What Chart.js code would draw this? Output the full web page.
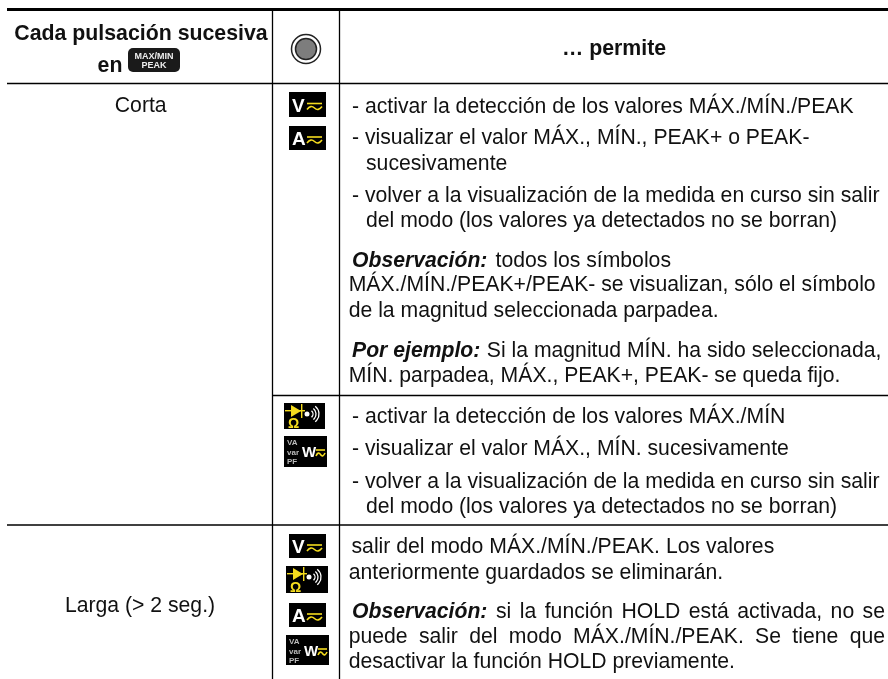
<!DOCTYPE html>
<html><head><meta charset="utf-8">
<style>html,body{margin:0;padding:0;background:#fff;overflow:hidden}canvas{display:block}</style>
<script src="https://cdn.jsdelivr.net/npm/chart.js@4"></script></head>
<body><canvas id="c" width="888" height="679"></canvas>
<script>
// ---- table content
const headerLabels = ['Cada pulsación sucesiva','en','… permite'];
const pressLabels = ['Corta','Larga (> 2 seg.)'];
const actionLines = [
'- activar la detección de los valores MÁX./MÍN./PEAK',
'- visualizar el valor MÁX., MÍN., PEAK+ o PEAK-',
'sucesivamente',
'- volver a la visualización de la medida en curso sin salir',
'del modo (los valores ya detectados no se borran)',
'Observación:',
'todos los símbolos',
'MÁX./MÍN./PEAK+/PEAK- se visualizan, sólo el símbolo',
'de la magnitud seleccionada parpadea.',
'Por ejemplo:',
'Si la magnitud MÍN. ha sido seleccionada,',
'MÍN. parpadea, MÁX., PEAK+, PEAK- se queda fijo.',
'- activar la detección de los valores MÁX./MÍN',
'- visualizar el valor MÁX., MÍN. sucesivamente',
'- volver a la visualización de la medida en curso sin salir',
'del modo (los valores ya detectados no se borran)',
'salir del modo MÁX./MÍN./PEAK. Los valores',
'anteriormente guardados se eliminarán.',
'Observación:',
'si la función HOLD está activada, no se',
'puede salir del modo MÁX./MÍN./PEAK. Se tiene que',
'desactivar la función HOLD previamente.'
];
const iconKinds = ['V','A','D','W','V','D','A','W'];

// ---- layout, kept apart from the content
const FONT = '"Liberation Sans", Arial, sans-serif';
const SIZE = 21.2, BOLD = 21.3;
const headerPos = [[141,40,'center'],[110,71.7,'center'],[614,55,'center']];
const pressPos = [[140.7,112],[140,611.7]];
// x, baseline, style, right edge for justified lines
const actionPos = [
[352,113],[352,144.3],[366,170],[352,201.7],[366,226.7],
[352,267,'bi'],[495.5,267],[348.7,290.7],[348.7,316.7],
[352,356.7,'bi'],[486.8,356.7],[348.7,382],
[352,423],[352,455],[352,488],[366,513],
[351.5,553],[348.7,579],
[352,617.7,'bi'],[496,617.7,'n',885],[348.7,643,'n',885],[348.7,668]
];
const iconPos = [[289,92,37,25],[289,126,37,24],[284,403,41,26],[284,436,43,31],
                 [289,534,37,24],[286,566,42,27],[289,603,37,24],[286,635,43,30]];
const ruleH = [[7,888,9.5,3],[7,888,83.5,1.3],[272,888,395.5,1.3],[7,888,525,1.3]];
const ruleV = [[272.5,11,679,1.3],[339.5,11,679,1.3]];

const lines = [];
const seg = (a,b,c,d,w)=>lines.push({type:'line',data:[{x:a,y:b},{x:c,y:d}],borderColor:'#000',borderWidth:w,pointRadius:0,tension:0});
ruleH.forEach(r=>seg(r[0],r[2],r[1],r[2],r[3]));
ruleV.forEach(r=>seg(r[0],r[1],r[0],r[2],r[3]));

const YEL='#f5dc1e';
function tilde(c,x,y,w){
  c.strokeStyle=YEL;c.lineWidth=1.6;c.beginPath();c.moveTo(x,y+3);
  c.quadraticCurveTo(x+w*.25,y-2,x+w*.5,y+1.5);c.quadraticCurveTo(x+w*.75,y+5,x+w,y);c.stroke();
  c.beginPath();c.moveTo(x,y-3);c.lineTo(x+w,y-3);c.stroke();
}
function icon(c,k,x,y,w,h){
  c.save();c.fillStyle='#000';c.fillRect(x,y,w,h);
  c.textBaseline='alphabetic';c.textAlign='left';
  if(k==='V'||k==='A'){
    c.fillStyle='#fff';c.font='bold 19px '+FONT;c.fillText(k,x+3,y+h-5);
    tilde(c,x+18,y+h/2+2,15);
  }else if(k==='D'){
    c.fillStyle=YEL;c.beginPath();c.moveTo(x+7,y+2);c.lineTo(x+17,y+8);c.lineTo(x+7,y+14);c.fill();
    c.fillRect(x+1,y+7,20,1.4);c.fillRect(x+17,y+1,1.4,14);
    c.font='bold 14px '+FONT;c.fillText('Ω',x+4,y+h-1);
    c.fillStyle='#fff';c.beginPath();c.arc(x+23,y+11,2.5,0,7);c.fill();
    c.strokeStyle='#fff';c.lineWidth=1.3;
    [3,6,9].forEach(r=>{c.beginPath();c.arc(x+25,y+11,r+1,-.9,.9);c.stroke();});
  }else{
    c.fillStyle='#bbb';c.font='bold 8px '+FONT;
    c.fillText('VA',x+3,y+9);c.fillText('var',x+3,y+19);c.fillText('PF',x+3,y+28);
    c.fillStyle='#fff';c.font='bold 15px '+FONT;c.fillText('W',x+18,y+21);
    tilde(c,x+32,y+17,9);
  }
  c.restore();
}
const tablePlugin={id:'table',afterDatasetsDraw(ch){
  const c=ch.ctx,X=ch.scales.x,Y=ch.scales.y,px=v=>X.getPixelForValue(v),py=v=>Y.getPixelForValue(v);
  c.save();c.textBaseline='alphabetic';c.fillStyle='#111';
  c.font='bold '+BOLD+'px '+FONT;c.textAlign='center';
  headerLabels.forEach((t,i)=>c.fillText(t,px(headerPos[i][0]),py(headerPos[i][1])));
  c.font=SIZE+'px '+FONT;
  pressLabels.forEach((t,i)=>c.fillText(t,px(pressPos[i][0]),py(pressPos[i][1])));
  c.textAlign='left';
  actionLines.forEach((t,i)=>{
    const p=actionPos[i];
    c.font=(p[2]==='bi'?'italic bold ':'')+SIZE+'px '+FONT;
    c.wordSpacing='0px';
    if(p[3]){const n=t.split(' ').length-1;c.wordSpacing=((p[3]-p[0]-c.measureText(t).width)/n)+'px';}
    c.fillText(t,px(p[0]),py(p[1]));
    c.wordSpacing='0px';
  });
  // MAX/MIN PEAK key
  const kx=px(128),ky=py(48);
  c.fillStyle='#1a1a1a';c.beginPath();c.roundRect(kx,ky,52,24,5);c.fill();
  c.fillStyle='#eee';c.font='bold 9px '+FONT;c.textAlign='center';
  c.fillText('MAX/MIN',kx+26,ky+11);c.fillText('PEAK',kx+26,ky+20);
  // selector dial
  const dx=px(306),dy=py(49);
  c.strokeStyle='#222';c.lineWidth=1.5;c.beginPath();c.arc(dx,dy,14.5,0,7);c.stroke();
  c.fillStyle='#7d7d7d';c.beginPath();c.arc(dx,dy,10.5,0,7);c.fill();c.stroke();
  iconKinds.forEach((k,i)=>{const p=iconPos[i];icon(c,k,px(p[0]),py(p[1]),p[2],p[3]);});
  c.restore();
}};
new Chart(document.getElementById('c'),{type:'scatter',data:{datasets:lines},plugins:[tablePlugin],options:{
  responsive:false,animation:false,layout:{padding:0},
  plugins:{legend:{display:false},tooltip:{enabled:false}},
  scales:{x:{type:'linear',min:0,max:888,display:false},y:{type:'linear',min:0,max:679,reverse:true,display:false}}
}});
</script></body></html>
